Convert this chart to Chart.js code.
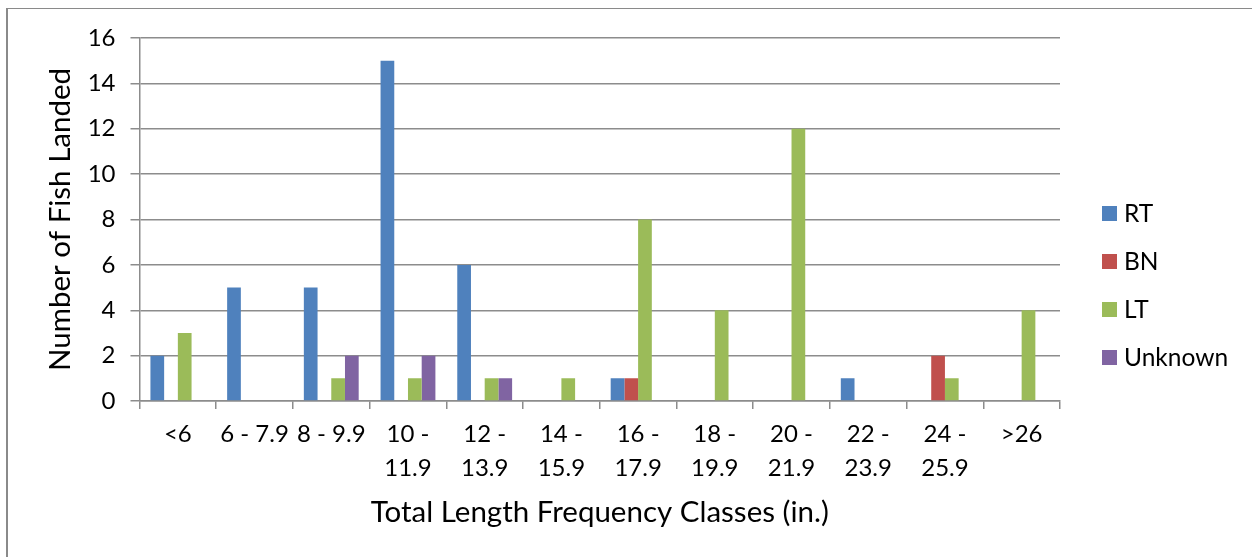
<!DOCTYPE html>
<html>
<head>
<meta charset="utf-8">
<title>Total Length Frequency Classes</title>
<script src="https://cdn.jsdelivr.net/npm/chart.js@4/dist/chart.umd.min.js"></script>
<style>
  html, body { margin: 0; padding: 0; background: #fff; overflow: hidden; }
  .frame {
    position: absolute; left: 6px; top: 8px; width: 1400px; height: 700px;
    border-left: 2px solid #8a8a8a; border-top: 1.5px solid #8a8a8a;
  }
  #chart { position: absolute; left: 0; top: 0; }
</style>
</head>
<body>
<div class="frame"></div>
<canvas id="chart" width="1252" height="557"></canvas>
<script>
const categories = ["<6", "6 - 7.9", "8 - 9.9", ["10 -", "11.9"], ["12 -", "13.9"], ["14 -", "15.9"],
  ["16 -", "17.9"], ["18 -", "19.9"], ["20 -", "21.9"], ["22 -", "23.9"], ["24 -", "25.9"], ">26"];
const rt = [2, 5, 5, 15, 6, 0, 1, 0, 0, 1, 0, 0];
const bn = [0, 0, 0, 0, 0, 0, 1, 0, 0, 0, 2, 0];
const lt = [3, 0, 1, 1, 1, 1, 8, 4, 12, 0, 1, 4];
const unknown = [0, 0, 2, 2, 1, 0, 0, 0, 0, 0, 0, 0];
const yTicks = [0, 2, 4, 6, 8, 10, 12, 14, 16];

const gridColor = "#8c8c8c";

Chart.defaults.font.family = "Lato";
Chart.defaults.color = "#000";

// legend drawn by hand so it sits off to the right like the excel one
const sideLegend = {
  id: "sideLegend",
  afterDraw(chart) {
    const {ctx, chartArea} = chart;
    const x = chartArea.right + 42;
    ctx.save();
    ctx.font = "24.5px Lato";
    ctx.textBaseline = "middle";
    chart.data.datasets.forEach((ds, i) => {
      const y = 213.5 + i * 48;
      ctx.fillStyle = ds.backgroundColor;
      ctx.fillRect(x, y - 7.5, 15, 15);
      ctx.fillStyle = "#000";
      ctx.fillText(ds.label, x + 22, y + 1);
    });
    ctx.restore();
  }
};

const mkSet = (label, data, color) => ({
  label: label,
  data: data,
  backgroundColor: color,
  borderWidth: 0,
  categoryPercentage: 0.715,
  barPercentage: 1
});

new Chart(document.getElementById("chart").getContext("2d"), {
  type: "bar",
  data: {
    labels: categories,
    datasets: [
      mkSet("RT", rt, "#4f81bd"),
      mkSet("BN", bn, "#c0504d"),
      mkSet("LT", lt, "#9bbb59"),
      mkSet("Unknown", unknown, "#8064a2")
    ]
  },
  options: {
    responsive: false,
    animation: false,
    events: [],
    layout: {
      padding: {left: 20, top: 38, right: 192, bottom: 10}
    },
    plugins: {
      legend: {display: false},
      tooltip: {enabled: false}
    },
    scales: {
      x: {
        afterFit: (s) => { s.height = 146; },
        grid: {
          offset: true,
          drawOnChartArea: false,
          tickLength: 8,
          color: gridColor,
          lineWidth: 1.5
        },
        border: {color: gridColor, width: 1.5},
        ticks: {
          font: {size: 24, lineHeight: 1.39},
          padding: 9,
          maxRotation: 0,
          autoSkip: false
        },
        title: {
          display: true,
          text: "Total Length Frequency Classes (in.)",
          font: {size: 29.5},
          padding: {top: 0, bottom: 17}
        }
      },
      y: {
        min: 0,
        max: 16,
        afterFit: (s) => { s.width = 119.5; },
        afterBuildTicks: (s) => { s.ticks = yTicks.map(v => ({value: v})); },
        grid: {
          tickLength: 9,
          color: gridColor,
          lineWidth: 1.5
        },
        border: {color: gridColor, width: 1.5},
        ticks: {
          font: {size: 24},
          padding: 15
        },
        title: {
          display: true,
          text: "Number of Fish Landed",
          font: {size: 29.5},
          padding: {top: 23, bottom: 0}
        }
      }
    }
  },
  plugins: [sideLegend]
});
</script>
</body>
</html>
